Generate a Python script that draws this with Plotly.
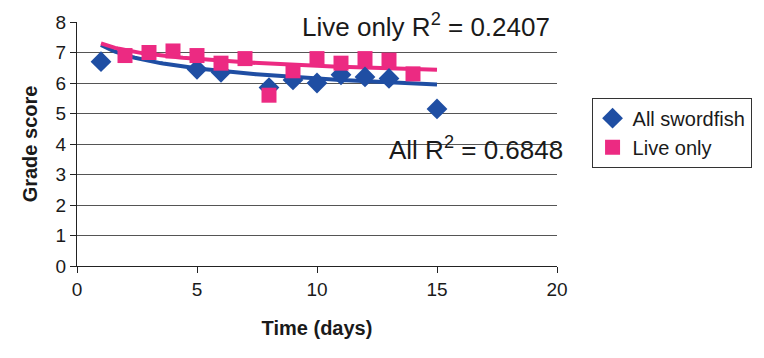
import numpy as np
import plotly.graph_objects as go

# Grade score of swordfish over storage time
all_days = [1, 5, 6, 8, 9, 10, 11, 12, 13, 15]
all_scores = [6.7, 6.45, 6.35, 5.85, 6.1, 6.0, 6.27, 6.2, 6.15, 5.15]

live_days = [2, 3, 4, 5, 6, 7, 8, 9, 10, 11, 12, 13, 14]
live_scores = [6.9, 7.0, 7.05, 6.9, 6.65, 6.8, 5.6, 6.4, 6.8, 6.65, 6.8, 6.75, 6.3]

# Logarithmic trend lines: score = intercept + slope * ln(day)
all_trend = [7.25, -0.48]
live_trend = [7.30, -0.32]
trend_span = [1, 15]

x_ticks = [0, 5, 10, 15, 20]
y_ticks = [0, 1, 2, 3, 4, 5, 6, 7, 8]

BLUE = "#1f4ea3"
PINK = "#ec2a82"
FONT = "Arial, Liberation Sans, sans-serif"

tx = np.linspace(trend_span[0], trend_span[1], 120)

fig = go.Figure()
fig.add_trace(go.Scatter(
    x=tx, y=all_trend[0] + all_trend[1] * np.log(tx), mode="lines",
    line=dict(color=BLUE, width=4), showlegend=False, hoverinfo="skip"))
fig.add_trace(go.Scatter(
    x=tx, y=live_trend[0] + live_trend[1] * np.log(tx), mode="lines",
    line=dict(color=PINK, width=4), showlegend=False, hoverinfo="skip"))
fig.add_trace(go.Scatter(
    x=all_days, y=all_scores, mode="markers", name="All swordfish",
    marker=dict(symbol="diamond", size=16, color=BLUE)))
fig.add_trace(go.Scatter(
    x=live_days, y=live_scores, mode="markers", name="Live only",
    marker=dict(symbol="square", size=15, color=PINK)))

fig.add_annotation(x=14.56, y=7.9, xref="x", yref="y",
                   text="Live only R<sup>2</sup> = 0.2407", showarrow=False,
                   font=dict(size=26, color="#1a1a1a", family=FONT))
fig.add_annotation(x=16.62, y=3.85, xref="x", yref="y",
                   text="All R<sup>2</sup> = 0.6848", showarrow=False,
                   font=dict(size=26, color="#1a1a1a", family=FONT))

fig.update_layout(
    width=764, height=358,
    margin=dict(l=77, r=202, t=16, b=92),
    paper_bgcolor="white", plot_bgcolor="white",
    font=dict(family=FONT, color="#1a1a1a", size=19),
    legend=dict(x=1.072, y=0.69, xanchor="left", yanchor="top",
                bordercolor="#333333", borderwidth=1,
                font=dict(size=20), itemwidth=30, tracegroupgap=0),
)
fig.update_xaxes(
    range=[0, 20], tickvals=x_ticks, showgrid=False, zeroline=False,
    showline=True, linecolor="#222222", linewidth=1,
    ticks="outside", ticklen=6, tickcolor="#222222",
    title=dict(text="<b>Time (days)</b>", font=dict(size=20), standoff=22))
fig.update_yaxes(
    range=[0, 8], tickvals=y_ticks, showgrid=True, gridcolor="#555555",
    gridwidth=1, zeroline=False, showline=True, linecolor="#222222",
    linewidth=1, ticks="outside", ticklen=6, tickcolor="#222222",
    title=dict(text="<b>Grade score</b>", font=dict(size=20), standoff=12))

fig.write_html("out.html")
